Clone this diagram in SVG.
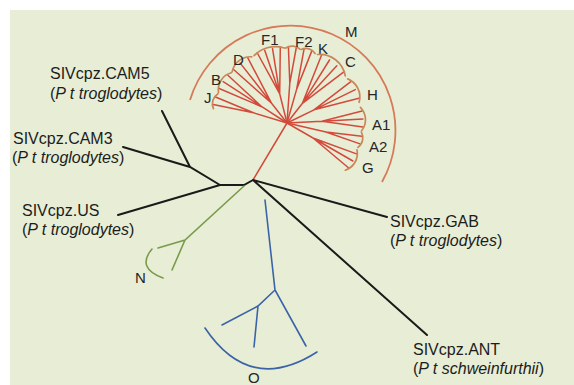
<svg xmlns="http://www.w3.org/2000/svg" width="574" height="385" viewBox="0 0 574 385">
<style>
.lbl{font-family:"Liberation Sans",Arial,sans-serif;font-size:16px;fill:#1c1c1c}
.it{font-style:italic}
.cl{font-family:"Liberation Sans",Arial,sans-serif;font-size:15px;fill:#262626}
.blk{stroke:#1a1a1a;stroke-width:2;fill:none;stroke-linecap:round}
.red{stroke:#d34a3c;stroke-width:1.5;fill:none;stroke-linecap:round}
.brk{stroke:#c98658;stroke-width:1.7;fill:none;stroke-linecap:round}
.grn{stroke:#7b9a4c;stroke-width:1.6;fill:none;stroke-linecap:round}
.blu{stroke:#3b63a8;stroke-width:1.6;fill:none;stroke-linecap:round}
</style>
<rect x="0" y="0" width="574" height="385" fill="#ffffff"/>
<rect x="10" y="10" width="564" height="375" fill="#e7eed5"/>
<g id="connectors">
<path class="red" d="M253 180L287 123" stroke="#d8704c"/>
<path class="blk" d="M253 180L244 185L220 185M220 185L118 215M220 185L190 167L123 147M190 167L162 111M253 180L387 217M253 180L427 335"/>
<path class="grn" d="M244 186L185 240L158 248M185 240L172 270"/>
<path class="blu" d="M265 200L275 290L306 346M275 290L258 306L222 325M258 306L254 347"/>
<path class="red" d="M287 123L253.5 112.8L213.2 104.6M253.5 112.8L215.5 97"/>
<path class="red" d="M287 123L261.8 106.7L219.2 88.5M261.8 106.7L223.2 81.6M261.8 106.7L227.9 75.2"/>
<path class="red" d="M287 123L271.6 103.3L233.3 69.3M271.6 103.3L240.2 63.1M271.6 103.3L247.8 57.9"/>
<path class="red" d="M287 123L279.7 93.9L257.3 53M279.7 93.9L264.7 50.3M279.7 93.9L272.5 48.4M279.7 93.9L280.3 47.3"/>
<path class="red" d="M287 123L289.8 83.1L288.4 47M289.8 83.1L296.3 47.5"/>
<path class="red" d="M287 123L296.6 89.4L304.1 48.9M296.6 89.4L311.7 51.1"/>
<path class="red" d="M287 123L302.4 103.3L321.5 55.2M302.4 103.3L329.5 60M302.4 103.3L336.8 65.7M302.4 103.3L343.5 72.1"/>
<path class="red" d="M287 123L314 109.8L350.8 81.6M314 109.8L355.3 89.6M314 109.8L358.9 98.3"/>
<path class="red" d="M287 123L322 121.2L362.1 111.1M322 121.2L362.9 119M322 121.2L362.9 127"/>
<path class="red" d="M287 123L326 132L361.8 136.2M326 132L360 143.9"/>
<path class="red" d="M287 123L313 138L356.5 153.9M313 138L352.9 161M313 138L348.4 167.7"/>
</g>
<g id="clade-M"><path d="M190 100A105 105 0 1 1 382 182" fill="none" stroke="#d67a5a" stroke-width="1.8"/><text class="cl" x="345" y="37">M</text></g>
<g id="clade-J"><path class="brk" d="M213.4 108.7A12 12 0 0 1 218 93.7"/><text class="cl" x="204" y="103">J</text></g>
<g id="clade-B"><path class="brk" d="M218.5 92.5A17.6 17.6 0 0 1 231.3 72.8"/><text class="cl" x="211" y="85">B</text></g>
<g id="clade-D"><path class="brk" d="M232.1 71.9A18.6 18.6 0 0 1 251.8 56.8"/><text class="cl" x="233" y="65">D</text></g>
<g id="clade-F1"><path class="brk" d="M254.1 55.6A30 30 0 0 1 284.4 48"/><text class="cl" x="261" y="45">F1</text></g>
<g id="clade-F2"><path class="brk" d="M285.7 48A12 12 0 0 1 300 49.1"/><text class="cl" x="295" y="47">F2</text></g>
<g id="clade-K"><path class="brk" d="M301.3 49.4A10.8 10.8 0 0 1 315.1 53.5"/><text class="cl" x="318" y="54">K</text></g>
<g id="clade-C"><path class="brk" d="M317.5 54.5A26 26 0 0 1 345.3 75.8"/><text class="cl" x="345" y="67">C</text></g>
<g id="clade-H"><path class="brk" d="M347.7 78.9A19.5 19.5 0 0 1 359.1 102.3"/><text class="cl" x="367" y="100">H</text></g>
<g id="clade-A1"><path class="brk" d="M360.4 107.4A17.6 17.6 0 0 1 361.6 130.8"/><text class="cl" x="372" y="130">A1</text></g>
<g id="clade-A2"><path class="brk" d="M361.4 132.1A11.8 11.8 0 0 1 357.9 147.4"/><text class="cl" x="369" y="152">A2</text></g>
<g id="clade-G"><path class="brk" d="M357 149.9A17.6 17.6 0 0 1 345.3 170.2"/><text class="cl" x="362" y="173">G</text></g>
<g id="clade-N"><path class="grn" d="M152 249Q136 268 163 278"/><text class="cl" x="135" y="283">N</text></g>
<g id="clade-O"><path class="blu" d="M205 328Q250 395 317 352"/><text class="cl" x="248" y="383">O</text></g>
<g id="node-CAM5"><text class="lbl" x="50" y="79">SIVcpz.CAM5</text><text class="lbl" x="50" y="99">(<tspan class="it">P t troglodytes</tspan>)</text></g>
<g id="node-CAM3"><text class="lbl" x="13" y="144">SIVcpz.CAM3</text><text class="lbl" x="12" y="163">(<tspan class="it">P t troglodytes</tspan>)</text></g>
<g id="node-US"><text class="lbl" x="22" y="216">SIVcpz.US</text><text class="lbl" x="22" y="235">(<tspan class="it">P t troglodytes</tspan>)</text></g>
<g id="node-GAB"><text class="lbl" x="390" y="227">SIVcpz.GAB</text><text class="lbl" x="390" y="246">(<tspan class="it">P t troglodytes</tspan>)</text></g>
<g id="node-ANT"><text class="lbl" x="413" y="355">SIVcpz.ANT</text><text class="lbl" x="413" y="374">(<tspan class="it">P t schweinfurthii</tspan>)</text></g>
</svg>
